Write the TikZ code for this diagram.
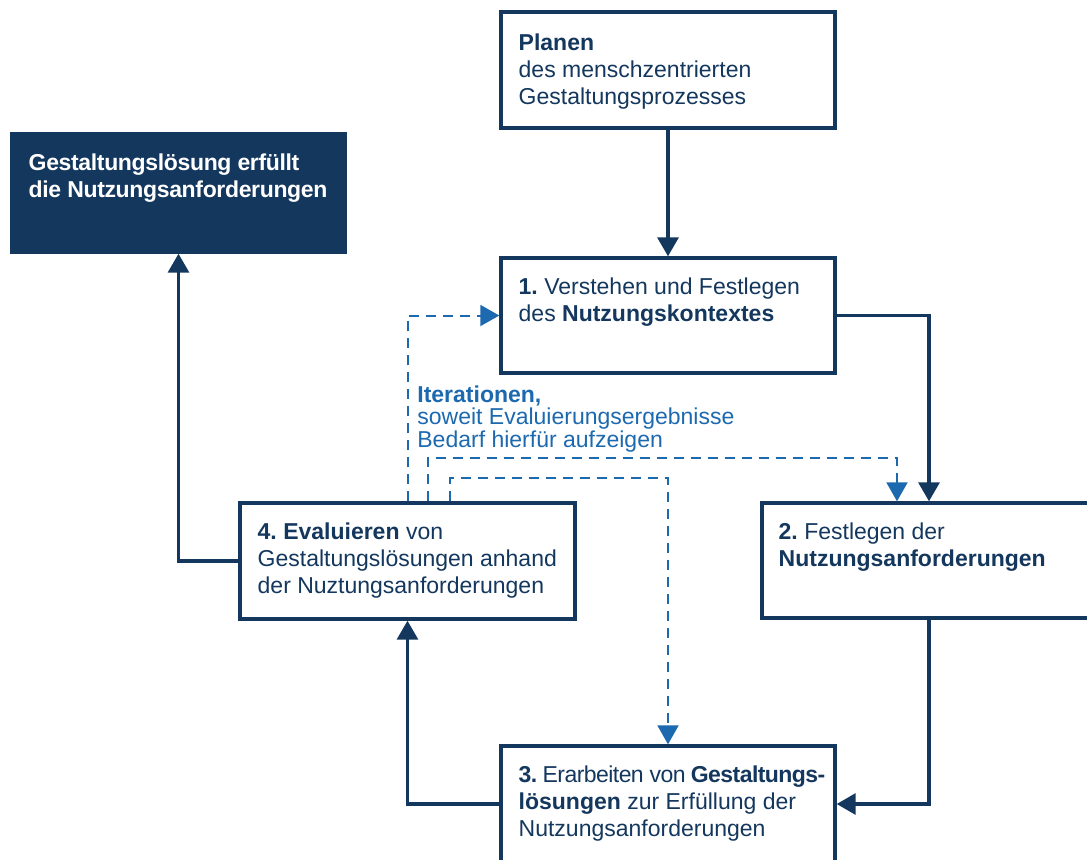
\documentclass[tikz,border=0pt]{standalone}
\usepackage{fontspec}
\setmainfont{Liberation Sans}
\usepackage{xcolor}
\usetikzlibrary{calc}
\usetikzlibrary{arrows.meta,positioning}
\frenchspacing
\definecolor{navy}{HTML}{14375E}
\definecolor{itblue}{HTML}{1D69AF}
\tikzstyle{bx}=[rectangle, draw=navy, line width=1.7pt, fill=white, inner sep=0pt]
\tikzstyle{dbx}=[rectangle, draw=navy, line width=1.7pt, fill=navy, inner sep=0pt]
\tikzstyle{tx}=[anchor=north west, align=left, inner sep=0pt, text=navy, font=\fontsize{11.5}{13.5}\selectfont]
\tikzstyle{arr}=[-{Triangle[length=9.5pt,width=10.5pt]}, draw=navy, line width=1.6pt]
\tikzstyle{itr}=[-{Triangle[length=9.5pt,width=10.5pt]}, draw=itblue, line width=1pt, dash pattern=on 5pt off 3.5pt]

\begin{document}
\begin{tikzpicture}[x=0.5pt, y=-0.5pt]
\useasboundingbox (0,0) rectangle (1087,859);

\node[bx, minimum width=167pt, minimum height=58pt] (plan) at (668,70) {};
\node[bx, minimum width=167pt, minimum height=57.5pt] (ctx) at (668,315.5) {};
\node[dbx, minimum width=166.5pt, minimum height=59pt] (done) at (178.5,193) {};
\node[bx, minimum width=167.5pt, minimum height=58pt] (eva) at (407.5,561) {};
\node[bx, minimum width=167pt, minimum height=57.5pt] (req) at (929,560.5) {};
\node[bx, minimum width=167pt, minimum height=58pt] (sol) at (668,804) {};

\node[tx, below right=11.5pt and 9.5pt of plan.north west] (tplan)
  {\textbf{Planen}\\des menschzentrierten\\Gestaltungsprozesses};
\node[tx, below right=10.5pt and 9.5pt of ctx.north west] (tctx)
  {\textbf{1.} Verstehen und Festlegen\\des \textbf{Nutzungskontextes}};
\node[tx, text=white, font=\fontsize{11.5}{13.5}\selectfont\bfseries\addfontfeature{LetterSpace=-1.5},
  below right=10.5pt and 9pt of done.north west] (tdone)
  {Gestaltungslösung erfüllt\\die Nutzungsanforderungen};
\node[tx, below right=10.5pt and 9.5pt of eva.north west] (teva)
  {\textbf{4. Evaluieren} von\\Gestaltungslösungen anhand\\der Nuztungsanforderungen};
\node[tx, below right=10.5pt and 9pt of req.north west] (treq)
  {\textbf{2.} Festlegen der\\\textbf{Nutzungsanforderungen}};
\node[tx, below right=10.5pt and 9.5pt of sol.north west] (tsol)
  {{\addfontfeature{LetterSpace=-2.4}\textbf{3.} Erarbeiten von \textbf{Gestaltungs-}}\\\textbf{lösungen} zur Erfüllung der\\Nutzungsanforderungen};

\node[tx, text=itblue, font=\fontsize{11.5}{11.25}\selectfont] (iter) at (417,385)
  {\textbf{Iterationen,}\\soweit Evaluierungsergebnisse\\Bedarf hierfür aufzeigen};

% main cycle
\draw[arr] (plan) -- (ctx);
\draw[arr] (ctx.east) -| (req.north);
\draw[arr] (req.south) |- (sol.east);
\draw[arr] (sol.west) -| (eva.south);
\draw[arr] (eva.west) -| (done.south);

% iterations
\coordinate (k2) at (428,458);
\coordinate (k2e) at (897,458);
\coordinate (k3) at (450,478);
\draw[itr] (eva.north) |- (ctx.west);
\draw[itr] (eva.north -| k2) -- (k2) -- (k2e) -- (k2e |- req.north);
\draw[itr] (eva.north -| k3) -- (k3) -| (sol.north);

\end{tikzpicture}
\end{document}
